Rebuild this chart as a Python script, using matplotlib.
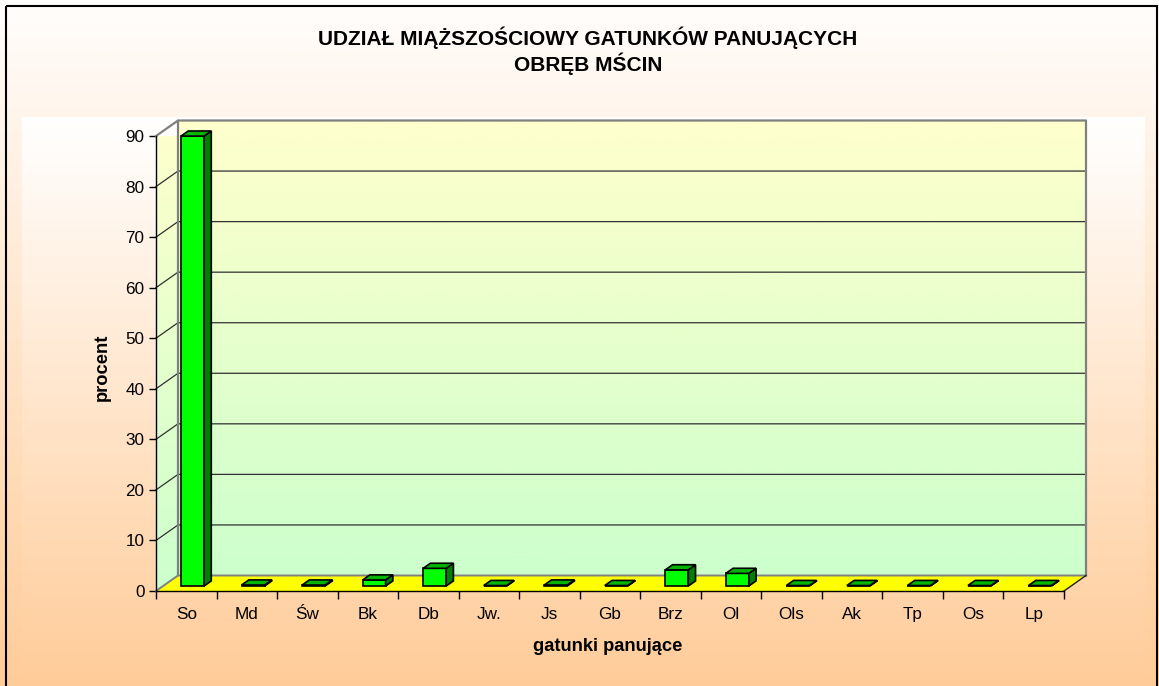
import numpy as np
import matplotlib
matplotlib.use("Agg")
import matplotlib.pyplot as plt
from matplotlib.patches import Polygon, Rectangle
from matplotlib.colors import LinearSegmentedColormap

plt.rcParams['font.family'] = ['Liberation Sans', 'DejaVu Sans']

# data
species = ["So", "Md", "Św", "Bk", "Db", "Jw.", "Js", "Gb", "Brz", "Ol",
           "Ols", "Ak", "Tp", "Os", "Lp"]
percent = [89.0, 0.2, 0.2, 1.2, 3.5, 0.1, 0.2, 0.1, 3.2, 2.5,
           0.1, 0.1, 0.1, 0.1, 0.1]
yticks = list(range(0, 100, 10))
title1 = "UDZIAŁ MIĄŻSZOŚCIOWY GATUNKÓW PANUJĄCYCH"
title2 = "OBRĘB MŚCIN"

W, H = 1159, 686
fig = plt.figure(figsize=(W / 100, H / 100), dpi=100)

# background: gradient white -> peach, with a lighter plot-area box
bg = fig.add_axes([0, 0, 1, 1], zorder=-10)
bg.set_xlim(0, W)
bg.set_ylim(H, 0)
bg.axis("off")
peach = LinearSegmentedColormap.from_list("peach", ["#ffffff", "#ffcc99"])
grad = np.linspace(0, 1, 256).reshape(-1, 1)
bg.imshow(grad, cmap=peach, extent=[0, W, H, 0], aspect="auto", vmin=-0.03, vmax=1)
bg.imshow(grad, cmap=peach, extent=[22, 1145, H, 117], aspect="auto", vmin=0, vmax=1)
# chart frame (bottom edge runs off the picture)
bg.add_patch(Rectangle((6, 6), W - 8, H + 10, fill=False, ec="black", lw=1.5,
                       clip_on=False))

# main axes = front plane of the 3d box
n = len(species)
ymax = 90
ax = fig.add_axes([156 / W, 95 / H, 908 / W, 455 / H])
ax.set_facecolor("none")
ax.set_xlim(0, n)
ax.set_ylim(0, ymax)

# depth offset in data units
DX = 22 / (908 / n)
DY = 15.5 / (455 / ymax)

def p(x, y, d):
    return (x + d * DX, y + d * DY)

wall = LinearSegmentedColormap.from_list("wall", ["#ccffcc", "#ffffcc"])
# back wall
ax.imshow(grad, cmap=wall, origin="lower", extent=[DX, n + DX, DY, ymax + DY],
          aspect="auto", zorder=0, clip_on=False)
# left wall
lw_poly = Polygon([p(0, 0, 0), p(0, 0, 1), p(0, ymax, 1), p(0, ymax, 0)], closed=True,
                  fc="none", ec="none", transform=ax.transData)
ax.add_patch(lw_poly)
im2 = ax.imshow(grad, cmap=wall, origin="lower", extent=[0, DX, 0, ymax + DY],
                aspect="auto", zorder=0, clip_on=True)
im2.set_clip_path(lw_poly)
ax.set_xlim(0, n)
ax.set_ylim(0, ymax)

# gridlines
for v in yticks[1:-1]:
    ax.plot(*zip(p(0, v, 0), p(0, v, 1), p(n, v, 1)), color="#303030", lw=0.9,
            zorder=1, clip_on=False)

# wall outlines
gray = "#808080"
ax.plot(*zip(p(0, ymax, 0), p(0, ymax, 1), p(n, ymax, 1), p(n, 0, 1)), color=gray,
        lw=1.6, zorder=2, clip_on=False)
ax.plot(*zip(p(0, 0, 1), p(0, ymax, 1)), color=gray, lw=1.6, zorder=2, clip_on=False)

# floor
ax.add_patch(Polygon([p(0, 0, 0), p(n, 0, 0), p(n, 0, 1), p(0, 0, 1)], closed=True,
                     fc="#ffff00", ec="none", zorder=2, clip_on=False))
ax.plot(*zip(p(0, 0, 0), p(0, 0, 1), p(n, 0, 1)), color=gray, lw=1.4, zorder=2,
        clip_on=False)
ax.plot(*zip(p(n, 0, 0), p(n, 0, 1)), color="#202020", lw=1.0, zorder=2, clip_on=False)

# bars
d0, d1 = 0.32, 0.65
off, bw = 0.297, 0.38
for i, v in enumerate(percent):
    x0 = i + off
    x1 = x0 + bw
    front = [p(x0, 0, d0), p(x1, 0, d0), p(x1, v, d0), p(x0, v, d0)]
    side = [p(x1, 0, d0), p(x1, 0, d1), p(x1, v, d1), p(x1, v, d0)]
    top = [p(x0, v, d0), p(x1, v, d0), p(x1, v, d1), p(x0, v, d1)]
    for pts, c in ((front, "#00ff00"), (side, "#008000"), (top, "#00b400")):
        ax.add_patch(Polygon(pts, closed=True, fc=c, ec="black", lw=1.2,
                             joinstyle="miter", zorder=3, clip_on=False))

# axes
for s in ("top", "right"):
    ax.spines[s].set_visible(False)
for s in ("left", "bottom"):
    ax.spines[s].set_color("black")
    ax.spines[s].set_linewidth(1.0)
    ax.spines[s].set_zorder(5)

ax.set_yticks(yticks)
ax.tick_params(axis="y", direction="out", length=5, width=1, pad=3.2, labelsize=12.3)
ax.set_xticks(np.arange(n) + 0.5)
ax.set_xticklabels(species)
ax.set_xticks(np.arange(n + 1), minor=True)
ax.tick_params(axis="x", which="major", length=0, pad=11.5, labelsize=12.3)
ax.tick_params(axis="x", which="minor", direction="out", length=6, width=1)

ax.set_ylabel("procent", fontsize=13.2, fontweight="bold")
ax.yaxis.set_label_coords(-0.0595, 0.492)
ax.set_xlabel("gatunki panujące", fontsize=13.2, fontweight="bold")
ax.xaxis.set_label_coords(0.498, -0.123)
ax.xaxis.label.set_va("center")
ax.yaxis.label.set_va("center")

fig.text(588 / W, 1 - 38 / H, title1, ha="center", va="center", fontsize=15,
         fontweight="bold")
fig.text(588 / W, 1 - 64 / H, title2, ha="center", va="center", fontsize=15,
         fontweight="bold")

fig.savefig("out.png", dpi=100)
